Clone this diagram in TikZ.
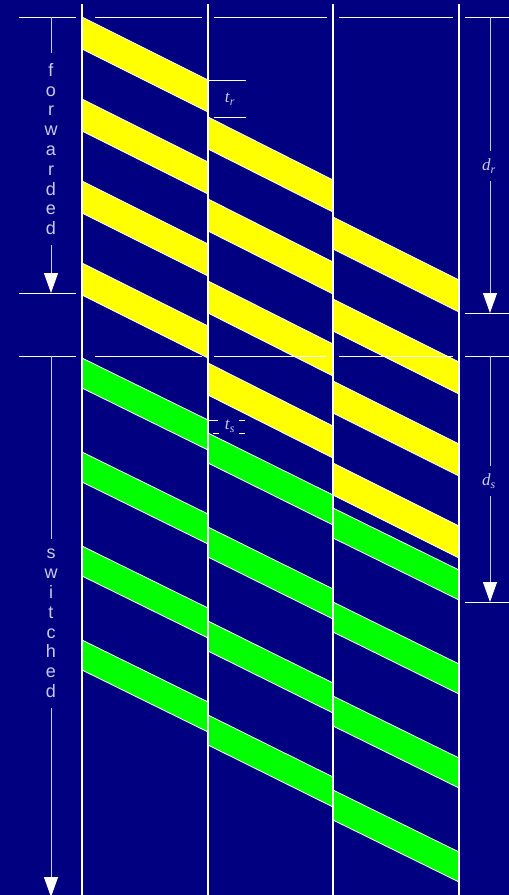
\documentclass[tikz,border=0pt]{standalone}
\usepackage{fontspec}
\setmainfont{Liberation Serif}
\newfontfamily\lettersans{Liberation Sans}
\usetikzlibrary{arrows.meta}
\definecolor{navybg}{HTML}{000080}
\definecolor{fwdyellow}{HTML}{FFFF00}
\definecolor{swgreen}{HTML}{00FF00}
\definecolor{labelgray}{HTML}{CACAE8}
\newcommand{\delaylabel}[2]{\textit{#1}\textsubscript{\textit{#2}}}
\tikzset{
  lanewire/.style={white,line width=1.2pt},
  tickline/.style={white,line width=0.9pt},
  packet/.style={draw=white,line width=0.8pt},
  spanline/.style={labelgray,line width=1pt},
  spanarrow/.style={spanline,-{Triangle[length=20pt,width=14pt,color=white]}},
  vword/.style={labelgray,font=\lettersans\fontsize{18}{19.8}\selectfont,
    align=center,inner ysep=10pt,anchor=north},
  delaylbl/.style={labelgray,font=\fontsize{17}{20}\selectfont,inner sep=1pt},
  spanlbl/.style={delaylbl,inner ysep=8pt}
}

\begin{document}
\begin{tikzpicture}[x=1pt,y=-1pt]
  % one pixel of the drawing = 1pt, y grows downwards
  \fill[navybg] (0,0) rectangle (509,895);
  \useasboundingbox (0,0) rectangle (509,895);

  % forwarded packets: drop 63 per hop, t_r = 37
  \foreach \y in {17,99,181,263}
    \foreach \xa/\xb/\d in {82/208/0,208/333/100,333/459/200}
      \filldraw[packet,fill=fwdyellow] (\xa,\y+\d) -- (\xb,\y+\d+63)
        -- (\xb,\y+\d+95) -- (\xa,\y+\d+32) -- cycle;
  % switched packets: drop 62 per hop, t_s = 13
  \foreach \y in {358,452,546,640}
    \foreach \xa/\xb/\d in {82/208/0,208/333/75,333/459/150}
      \filldraw[packet,fill=swgreen] (\xa,\y+\d) -- (\xb,\y+\d+62)
        -- (\xb,\y+\d+92) -- (\xa,\y+\d+30) -- cycle;

  % links
  \foreach \x in {82,208,333,459}
    \draw[lanewire] (\x,4) -- (\x,897);

  % section rules
  \foreach \y in {17,356}
    \draw[tickline] (19,\y) -- (76,\y) (95,\y) -- (202,\y) (214,\y) -- (327,\y)
      (339,\y) -- (453,\y) (465,\y) -- (509,\y);
  \draw[tickline] (19,293) -- (76,293);
  \draw[tickline] (465,313) -- (509,313);
  \draw[tickline] (465,602) -- (509,602);

  % per-hop delays
  \draw[tickline] (208,80) -- (246,80) (214,117) -- (246,117);
  \node[delaylbl] (tr) at (230,99) {\delaylabel{t}{r}};
  \draw[tickline] (209,420) -- (218,420) (239,420) -- (245,420)
    (213,433) -- (219,433) (239,433) -- (245,433);
  \node[delaylbl] (ts) at (230,426) {\delaylabel{t}{s}};

  % total delays
  \coordinate (drtop) at (490,17);
  \coordinate (drbot) at (490,313);
  \node[spanlbl] (dr) at (489,166) {\delaylabel{d}{r}};
  \draw[spanline] (drtop) -- (drtop |- dr.north);
  \draw[spanarrow] (drbot |- dr.south) -- (drbot);
  \coordinate (dstop) at (490,356);
  \coordinate (dsbot) at (490,602);
  \node[spanlbl] (ds) at (489,481) {\delaylabel{d}{s}};
  \draw[spanline] (dstop) -- (dstop |- ds.north);
  \draw[spanarrow] (dsbot |- ds.south) -- (dsbot);

  % side words
  \coordinate (fwdtop) at (51,17);
  \coordinate (fwdbot) at (51,293);
  \node[vword] (fwd) at (51,53) {f\\o\\r\\w\\a\\r\\d\\e\\d};
  \draw[spanline] (fwdtop) -- (fwd.north);
  \draw[spanarrow] (fwd.south) -- (fwdbot);
  \coordinate (swtop) at (51,356);
  \coordinate (swbot) at (51,897);
  \node[vword] (sw) at (51,539) {s\\w\\i\\t\\c\\h\\e\\d};
  \draw[spanline] (swtop) -- (sw.north);
  \draw[spanarrow] (sw.south) -- (swbot);
\end{tikzpicture}
\end{document}
